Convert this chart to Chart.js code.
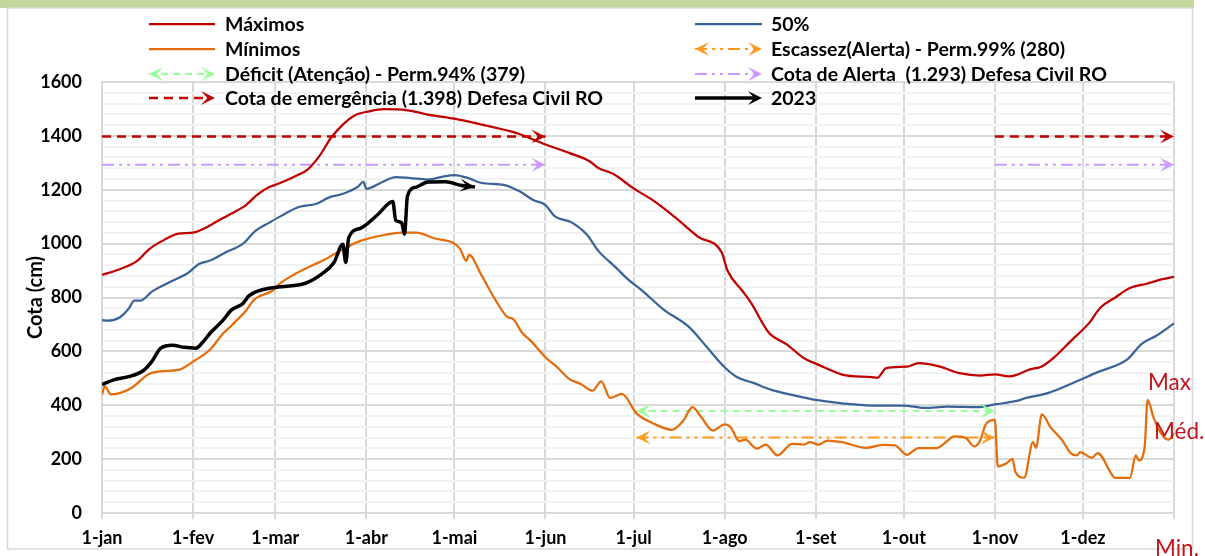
<!DOCTYPE html>
<html lang="pt-BR">
<head>
<meta charset="utf-8">
<title>Cota (cm) - 2023</title>
<script src="https://cdn.jsdelivr.net/npm/chart.js@4.4.1/dist/chart.umd.min.js"></script>
<style>
  html, body { margin: 0; padding: 0; background: #fff; }
  #wrap { width: 1205px; height: 556px; position: relative; }
</style>
</head>
<body>
<div id="wrap"><canvas id="grafico" width="1205" height="556"></canvas></div>
<script>
// dia do ano (0 = 1-jan) e cota em cm
const maxDias = [0, 5, 12, 16, 21, 26, 31, 36, 41, 44, 49, 53, 57, 60, 66, 70, 74, 78, 82, 86, 91, 96, 104, 111, 120, 130, 141, 151, 159, 166, 169, 174, 181, 188, 195, 203, 211, 213, 218, 221, 227, 233, 239, 244, 252, 262, 264, 267, 274, 278, 285, 292, 299, 304, 309, 316, 320, 324, 330, 336, 340, 345, 350, 356, 361, 365];
const maxCota = [884, 901, 936, 979, 1013, 1037, 1041, 1063, 1094, 1111, 1143, 1183, 1210, 1222, 1251, 1275, 1325, 1393, 1442, 1476, 1491, 1499, 1495, 1479, 1464, 1440, 1411, 1368, 1337, 1306, 1281, 1259, 1205, 1158, 1099, 1025, 967, 899, 825, 780, 670, 627, 575, 550, 514, 504, 502, 538, 543, 556, 544, 519, 510, 515, 507, 533, 544, 576, 640, 704, 763, 800, 835, 852, 868, 877];

const medDias = [0, 2, 6, 9, 11, 13, 17, 24, 29, 33, 37, 42, 48, 52, 57, 61, 67, 73, 77, 82, 87, 89, 90, 95, 100, 105, 111, 117, 120, 125, 129, 137, 142, 147, 151, 154, 160, 165, 169, 175, 179, 184, 191, 200, 206, 212, 216, 222, 228, 236, 243, 252, 262, 273, 280, 288, 298, 304, 311, 315, 322, 330, 339, 349, 354, 359, 365];
const medCota = [716, 714, 726, 757, 788, 788, 822, 862, 889, 924, 938, 967, 1000, 1045, 1078, 1103, 1136, 1148, 1170, 1185, 1210, 1229, 1203, 1226, 1247, 1243, 1238, 1251, 1254, 1242, 1226, 1217, 1195, 1161, 1143, 1103, 1078, 1035, 973, 911, 868, 825, 757, 689, 615, 541, 506, 482, 457, 436, 420, 407, 399, 399, 390, 395, 393, 403, 415, 428, 445, 480, 523, 569, 628, 658, 704];

const minDias = [0, 1, 3, 6, 10, 16, 20, 26, 31, 37, 41, 44, 49, 52, 58, 60, 66, 76, 82, 88, 96, 102, 107, 113, 120, 122, 124, 125, 129, 134, 138, 140, 143, 146, 151, 155, 159, 163, 167, 170, 173, 177, 182, 188, 194, 198, 201, 204, 208, 212, 214, 217, 219, 223, 226, 230, 235, 239, 241, 244, 247, 252, 260, 266, 270, 274, 278, 284, 288, 290, 294, 297, 299, 301, 304, 305, 308, 310, 311, 314, 317, 318, 320, 323, 327, 330, 332, 333, 337, 339, 344, 345, 350, 352, 353, 355, 356, 358, 360, 363, 365];
const minCota = [440, 470, 440, 445, 464, 516, 526, 531, 562, 609, 664, 695, 751, 794, 825, 847, 889, 942, 979, 1010, 1032, 1041, 1041, 1020, 1000, 979, 936, 958, 887, 790, 728, 720, 670, 639, 578, 541, 498, 479, 454, 489, 427, 442, 370, 331, 309, 344, 393, 356, 306, 329, 319, 267, 272, 239, 254, 214, 257, 254, 263, 254, 269, 263, 242, 253, 251, 216, 241, 241, 269, 284, 279, 247, 269, 331, 346, 173, 185, 201, 152, 131, 263, 242, 366, 318, 269, 220, 214, 226, 205, 222, 140, 130, 130, 214, 195, 244, 420, 356, 306, 272, 295];

const dias2023 = [0, 4, 9, 14, 17, 20, 24, 28, 32, 34, 37, 41, 44, 48, 50, 54, 61, 69, 75, 79, 82, 83, 84, 88, 94, 99, 100, 102, 103, 104, 107, 111, 117, 122, 127];
const cota2023 = [477, 494, 506, 528, 563, 612, 623, 615, 612, 630, 670, 713, 753, 778, 806, 827, 840, 852, 889, 930, 998, 930, 1022, 1057, 1109, 1156, 1087, 1078, 1035, 1177, 1210, 1229, 1230, 1217, 1210];

const cotaEmergencia = 1398;
const cotaAlerta = 1293;
const cotaDeficit = 379;
const cotaEscassez = 280;
const faixaCheia = [[0, 151], [304, 365]];
const faixaSeca = [[182, 304]];

const inicioMes = [0, 31, 59, 90, 120, 151, 181, 212, 243, 273, 304, 334, 365];
const mesRotulos = ['1-jan', '1-fev', '1-mar', '1-abr', '1-mai', '1-jun', '1-jul', '1-ago', '1-set', '1-out', '1-nov', '1-dez', ''];

function pontos(dias, cotas) {
  return dias.map((d, i) => ({ x: d, y: cotas[i] }));
}
function faixas(segmentos, valor) {
  const out = [];
  segmentos.forEach((s, i) => {
    if (i > 0) out.push({ x: (segmentos[i - 1][1] + s[0]) / 2, y: null });
    out.push({ x: s[0], y: valor }, { x: s[1], y: valor });
  });
  return out;
}

// ponta de seta estilo "stealth"
function seta(ctx, x, y, ang, cor, tam, larg) {
  ctx.save();
  ctx.translate(x, y);
  ctx.rotate(ang);
  ctx.beginPath();
  ctx.moveTo(0, 0);
  ctx.lineTo(-tam, -larg / 2);
  ctx.lineTo(-tam * 0.55, 0);
  ctx.lineTo(-tam, larg / 2);
  ctx.closePath();
  ctx.fillStyle = cor;
  ctx.fill();
  ctx.restore();
}

const FONTE = 'Lato, "DejaVu Sans", sans-serif';
Chart.defaults.font.family = FONTE;
Chart.defaults.color = '#000';

const curva = { pointRadius: 0, cubicInterpolationMode: 'monotone', fill: false };

const datasets = [
  { label: 'Máximos', data: pontos(maxDias, maxCota), borderColor: '#c00000', borderWidth: 2.25, order: 2, ...curva },
  { label: '50%', data: pontos(medDias, medCota), borderColor: '#3a6497', borderWidth: 2.25, order: 2, ...curva },
  { label: 'Mínimos', data: pontos(minDias, minCota), borderColor: '#e46c0a', borderWidth: 2.25, order: 2, ...curva },
  { label: 'Escassez(Alerta) - Perm.99% (280)', data: faixas(faixaSeca, cotaEscassez), borderColor: '#ff9a1f', borderWidth: 2, borderDash: [12, 5, 3, 5, 3, 5], setas: 'ambas', order: 3, pointRadius: 0 },
  { label: 'Déficit (Atenção) - Perm.94% (379)', data: faixas(faixaSeca, cotaDeficit), borderColor: '#99ff99', borderWidth: 2, borderDash: [7, 5], setas: 'ambas', order: 3, pointRadius: 0 },
  { label: 'Cota de Alerta  (1.293) Defesa Civil RO', data: faixas(faixaCheia, cotaAlerta), borderColor: '#cc99ff', borderWidth: 2, borderDash: [12, 5, 3, 5, 3, 5], setas: 'fim', order: 3, pointRadius: 0 },
  { label: 'Cota de emergência (1.398) Defesa Civil RO', data: faixas(faixaCheia, cotaEmergencia), borderColor: '#c00000', borderWidth: 2.5, borderDash: [9, 6], setas: 'fim', order: 3, pointRadius: 0 },
  { label: '2023', data: pontos(dias2023, cota2023), borderColor: '#000000', borderWidth: 3.5, setas: 'fim', order: 0, ...curva },
];

const molduraPlugin = {
  id: 'moldura',
  beforeDraw(chart) {
    const { ctx, width, height } = chart;
    ctx.save();
    ctx.fillStyle = '#fff';
    ctx.fillRect(0, 0, width, height);
    ctx.fillStyle = '#c3d69b';
    ctx.fillRect(0, 0, 1194, 8);
    ctx.strokeStyle = '#d9d9d9';
    ctx.lineWidth = 1.5;
    ctx.strokeRect(7.5, 8, 1185, 541);
    ctx.restore();
  }
};

const setasPlugin = {
  id: 'setas',
  afterDatasetsDraw(chart) {
    const ctx = chart.ctx;
    chart.data.datasets.forEach((ds, i) => {
      if (!ds.setas) return;
      const pts = chart.getDatasetMeta(i).data;
      const raw = ds.data;
      const tam = ds.label === '2023' ? 15 : 14;
      const larg = ds.label === '2023' ? 13 : 14;
      for (let k = 0; k < raw.length; k++) {
        if (raw[k].y == null) continue;
        const antOk = k > 0 && raw[k - 1].y != null;
        const proxOk = k < raw.length - 1 && raw[k + 1].y != null;
        if (antOk && !proxOk) {
          const a = Math.atan2(pts[k].y - pts[k - 1].y, pts[k].x - pts[k - 1].x);
          seta(ctx, pts[k].x, pts[k].y, a, ds.borderColor, tam, larg);
        }
        if (ds.setas === 'ambas' && proxOk && !antOk) {
          const a = Math.atan2(pts[k].y - pts[k + 1].y, pts[k].x - pts[k + 1].x);
          seta(ctx, pts[k].x, pts[k].y, a, ds.borderColor, tam, larg);
        }
      }
    });
  }
};

const legendaPlugin = {
  id: 'legenda',
  afterDraw(chart) {
    const ctx = chart.ctx;
    const colunas = [{ x0: 149, x1: 215, tx: 225 }, { x0: 695, x1: 762, tx: 771 }];
    const linhas = [24, 49, 74, 98];
    chart.data.datasets.forEach((ds, i) => {
      const col = colunas[i % 2];
      const y = linhas[Math.floor(i / 2)];
      ctx.save();
      ctx.strokeStyle = ds.borderColor;
      ctx.lineWidth = ds.borderWidth;
      ctx.setLineDash(ds.borderDash || []);
      ctx.beginPath();
      ctx.moveTo(col.x0, y);
      ctx.lineTo(col.x1 - (ds.setas ? 4 : 0), y);
      ctx.stroke();
      ctx.setLineDash([]);
      if (ds.setas) seta(ctx, col.x1, y, 0, ds.borderColor, 14, 14);
      if (ds.setas === 'ambas') seta(ctx, col.x0, y, Math.PI, ds.borderColor, 14, 14);
      ctx.fillStyle = '#000';
      ctx.font = 'bold 19.5px ' + FONTE;
      ctx.textAlign = 'left';
      ctx.textBaseline = 'middle';
      ctx.fillText(ds.label, col.tx, y + 1);
      ctx.restore();
    });

    // rótulos soltos à direita
    ctx.save();
    ctx.fillStyle = '#c0151c';
    ctx.font = '22.5px ' + FONTE;
    ctx.textAlign = 'left';
    ctx.textBaseline = 'alphabetic';
    ctx.fillText('Max', 1148, 390);
    ctx.fillText('Méd.', 1154, 439);
    ctx.fillText('Min.', 1155, 556);
    ctx.restore();
  }
};

new Chart(document.getElementById('grafico'), {
  type: 'line',
  data: { datasets },
  plugins: [molduraPlugin, setasPlugin, legendaPlugin],
  options: {
    responsive: false,
    animation: false,
    devicePixelRatio: 1,
    layout: { padding: { top: 82, right: 31, bottom: 0, left: 0 } },
    plugins: {
      legend: { display: false },
      tooltip: { enabled: false }
    },
    scales: {
      x: {
        type: 'linear',
        min: 0,
        max: 365,
        afterBuildTicks: (axis) => { axis.ticks = inicioMes.map(v => ({ value: v })); },
        afterFit: (scale) => { scale.height = 43; },
        ticks: {
          autoSkip: false,
          maxRotation: 0,
          padding: 8,
          font: { size: 18, weight: 'bold' },
          callback: (v, i) => mesRotulos[i] || ''
        },
        grid: { color: '#d9d9d9', lineWidth: 2, drawTicks: true, tickLength: 6, tickColor: '#d9d9d9' },
        border: { color: '#d9d9d9', width: 2 }
      },
      y: {
        min: 0,
        max: 1600,
        afterFit: (scale) => { scale.width = 102; },
        ticks: {
          stepSize: 40,
          autoSkip: false,
          padding: 20,
          font: { size: 18, weight: 'bold' },
          callback: (v) => (v % 200 === 0 ? String(v) : '')
        },
        grid: {
          drawTicks: false,
          lineWidth: 2,
          color: (c) => (c.tick && c.tick.value % 200 === 0 ? '#d9d9d9' : '#f2f2f2')
        },
        border: { color: '#d9d9d9', width: 2 },
        title: {
          display: true,
          text: 'Cota (cm)',
          font: { size: 20, weight: 'bold' },
          padding: { top: 24, bottom: 0 }
        }
      }
    }
  }
});
</script>
</body>
</html>
